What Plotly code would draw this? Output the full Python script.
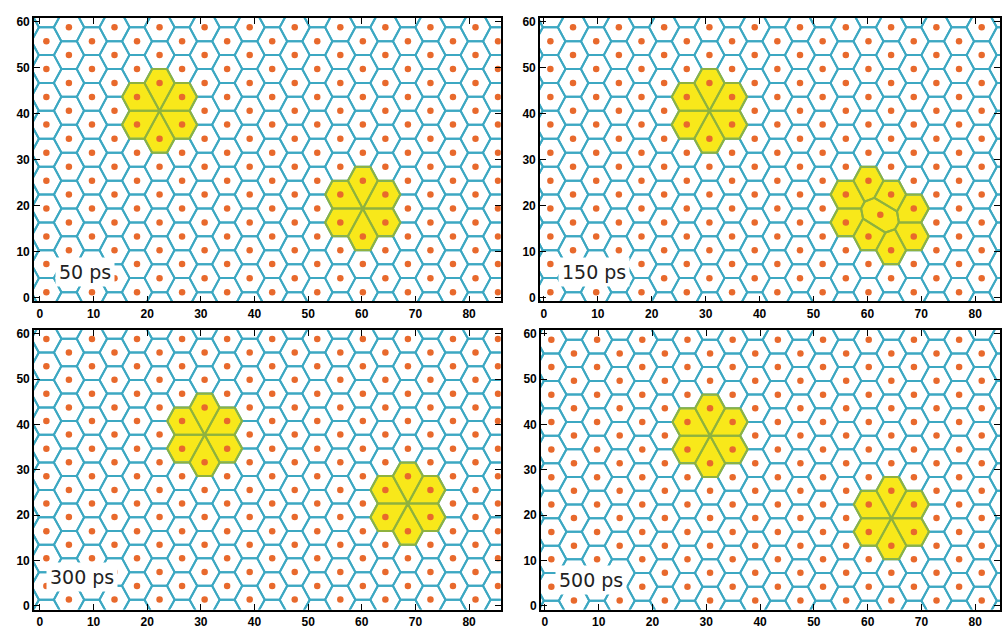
import numpy as np
import plotly.graph_objects as go

# Lattice of the simulated crystal (column x positions and row y positions)
col_x = [1.2, 5.4, 9.7, 13.9, 18.1, 22.3, 26.5, 30.7, 34.9, 39.1,
         43.3, 47.5, 51.7, 56.0, 60.2, 64.4, 68.6, 72.8, 77.0, 81.2]
row_y = [1.2, 7.3, 13.3, 19.4, 25.4, 31.5, 37.6, 43.6, 49.7, 55.7]
box_w, box_h = 84.2, 60.6          # periodic cell
x_stretch = 1.247                  # x scale of the physical metric

# Snapshots: time label, row shift of even / odd columns, vacant sites,
# and atoms sitting between lattice sites
times = ["50 ps", "150 ps", "300 ps", "500 ps"]
even_shift = [0.0, 0.0, 3.2, 3.0]
odd_shift = [3.03, 3.03, 0.2, 0.0]
vac_x = [[22.3, 60.2], [30.7, 60.2, 64.4], [30.7, 68.6], [30.7, 64.4]]
vac_y = [[40.6, 19.4], [40.6, 19.4, 16.4], [37.8, 22.6], [37.6, 19.4]]
mid_x = [[], [62.4], [], []]
mid_y = [[], [18.0], [], []]

EDGE = "#3ca8c2"
DOT = "#e8692c"
FILL = "#f8e81a"
FILL_EDGE = "#8fb23e"


def clip(poly, a, b, c):
    out = []
    n = len(poly)
    for i in range(n):
        p, q = poly[i], poly[(i + 1) % n]
        fp = a * p[0] + b * p[1] - c
        fq = a * q[0] + b * q[1] - c
        if fp <= 0:
            out.append(p)
        if fp * fq < 0:
            t = fp / (fp - fq)
            out.append((p[0] + t * (q[0] - p[0]), p[1] + t * (q[1] - p[1])))
    return out


def site_list(k):
    pts = []
    for i, x in enumerate(col_x):
        sh = even_shift[k] if i % 2 == 0 else odd_shift[k]
        for y in row_y:
            pts.append((x, y + sh))
    pts = np.array(pts)
    vac = np.column_stack([vac_x[k], vac_y[k]])
    d = np.min(np.hypot(pts[:, None, 0] - vac[None, :, 0],
                        pts[:, None, 1] - vac[None, :, 1]), axis=1)
    pts = pts[d > 1.0]
    mids = np.column_stack([mid_x[k], mid_y[k]]) if mid_x[k] else np.zeros((0, 2))
    return np.vstack([pts, mids]), vac, mids


def voronoi(k):
    base, vac, mids = site_list(k)
    allp = np.vstack([base + np.array([i * box_w, j * box_h])
                      for i in (-1, 0, 1) for j in (-1, 0, 1)])
    keep = (allp[:, 0] > -14) & (allp[:, 0] < 100) & (allp[:, 1] > -16) & (allp[:, 1] < 78)
    allp = allp[keep]
    sc = allp * np.array([x_stretch, 1.0])
    cells, shown = [], []
    for idx in range(len(allp)):
        x, y = allp[idx]
        if not (-7 < x < 93 and -8 < y < 69):
            continue
        p = sc[idx]
        poly = [(p[0] - 12, p[1] - 12), (p[0] + 12, p[1] - 12),
                (p[0] + 12, p[1] + 12), (p[0] - 12, p[1] + 12)]
        d = np.hypot(sc[:, 0] - p[0], sc[:, 1] - p[1])
        for q in sc[(d > 1e-6) & (d < 15)]:
            a, b = q[0] - p[0], q[1] - p[1]
            c = (q[0] ** 2 + q[1] ** 2 - p[0] ** 2 - p[1] ** 2) / 2
            poly = clip(poly, a, b, c)
        cells.append([(u / x_stretch, v) for u, v in poly])
        shown.append((x, y))
    shown = np.array(shown)
    # highlighted cells: nearest neighbours of a vacant site, and displaced atoms
    ssc = shown * np.array([x_stretch, 1.0])
    vsc = vac * np.array([x_stretch, 1.0])
    dv = np.min(np.hypot(ssc[:, None, 0] - vsc[None, :, 0],
                         ssc[:, None, 1] - vsc[None, :, 1]), axis=1)
    yellow = set(np.where(dv < 7.0)[0].tolist())
    return shown, cells, yellow


fig = go.Figure()

W, H = 1002, 634
# pixel boxes of the four panels: left, right, top, bottom
boxes = [(34, 501.7, 15, 301.7), (541, 1002, 15, 301.7),
         (34, 501.7, 331, 613.3), (542, 1002, 331, 613.3)]
xranges = [[-1.12, 85.9], [-0.74, 84.6], [-1.12, 85.9], [-0.74, 84.6]]
label_pos = [(0.045, 0.105), (0.04, 0.105), (0.025, 0.115), (0.03, 0.105)]

for k in range(4):
    xa = "x" if k == 0 else f"x{k + 1}"
    ya = "y" if k == 0 else f"y{k + 1}"
    pts, cells, yellow = voronoi(k)

    for i in sorted(yellow):
        poly = cells[i]
        fig.add_trace(go.Scatter(
            x=[p[0] for p in poly] + [poly[0][0]],
            y=[p[1] for p in poly] + [poly[0][1]],
            mode="lines", fill="toself", fillcolor=FILL,
            line=dict(width=0), hoverinfo="skip", showlegend=False,
            xaxis=xa, yaxis=ya))

    ex, ey = [], []
    for i, poly in enumerate(cells):
        if i in yellow:
            continue
        for p in poly + [poly[0]]:
            ex.append(p[0]); ey.append(p[1])
        ex.append(None); ey.append(None)
    fig.add_trace(go.Scatter(x=ex, y=ey, mode="lines",
                             line=dict(color=EDGE, width=2),
                             hoverinfo="skip", showlegend=False,
                             xaxis=xa, yaxis=ya))

    gx, gy = [], []
    for i in sorted(yellow):
        poly = cells[i]
        for p in poly + [poly[0]]:
            gx.append(p[0]); gy.append(p[1])
        gx.append(None); gy.append(None)
    fig.add_trace(go.Scatter(x=gx, y=gy, mode="lines",
                             line=dict(color=FILL_EDGE, width=2),
                             hoverinfo="skip", showlegend=False,
                             xaxis=xa, yaxis=ya))

    fig.add_trace(go.Scatter(x=pts[:, 0], y=pts[:, 1], mode="markers",
                             marker=dict(color=DOT, size=6.5, line=dict(width=0)),
                             hoverinfo="skip", showlegend=False,
                             xaxis=xa, yaxis=ya))

    l, r, t, b = boxes[k]
    axis_common = dict(showline=True, linecolor="black", linewidth=1.5,
                       mirror="ticks", ticks="inside", ticklen=6,
                       tickwidth=1.3, tickcolor="black", showgrid=False,
                       zeroline=False,
                       tickfont=dict(family="Liberation Sans, Arial",
                                     size=12, color="black", weight="bold"))
    fig.layout[("xaxis" if k == 0 else f"xaxis{k + 1}")] = dict(
        domain=[l / W, r / W], range=xranges[k], anchor=ya,
        tickvals=list(range(0, 90, 10)), **axis_common)
    fig.layout[("yaxis" if k == 0 else f"yaxis{k + 1}")] = dict(
        domain=[1 - b / H, 1 - t / H], range=[-0.8, 60.8], anchor=xa,
        tickvals=list(range(0, 70, 10)), **axis_common)

    lx, ly = label_pos[k]
    fig.add_annotation(text=times[k], xref=f"{xa} domain", yref=f"{ya} domain",
                       x=lx, y=ly, xanchor="left", yanchor="middle",
                       showarrow=False, bgcolor="white", borderpad=3,
                       font=dict(family="DejaVu Sans", size=19, color="#222"))

fig.update_layout(width=W, height=H, margin=dict(l=0, r=0, t=0, b=0),
                  paper_bgcolor="white", plot_bgcolor="white")

fig.write_html("out.html")
